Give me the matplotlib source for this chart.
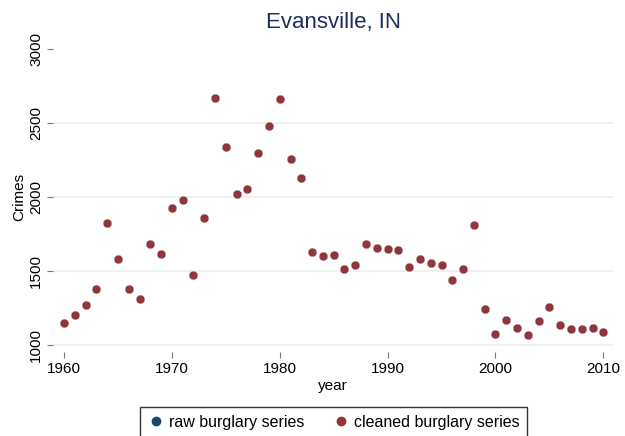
import matplotlib
matplotlib.use("Agg")
import matplotlib.pyplot as plt
from matplotlib.lines import Line2D

plt.rcParams['font.family'] = ['Liberation Sans', 'DejaVu Sans']

# data
years = list(range(1960, 2011))
cleaned = [1145, 1200, 1270, 1376, 1824, 1577, 1376, 1309, 1682, 1613,
           1921, 1980, 1471, 1854, 2669, 2338, 2016, 2050, 2297, 2476,
           2662, 2255, 2126, 1628, 1599, 1604, 1511, 1538, 1678, 1653,
           1644, 1640, 1525, 1579, 1552, 1538, 1439, 1509, 1807, 1243,
           1074, 1165, 1113, 1068, 1160, 1257, 1133, 1108, 1104, 1111,
           1088]
raw = list(cleaned)  # raw series sits underneath the cleaned one
yticks = [1000, 1500, 2000, 2500, 3000]
xticks = [1960, 1970, 1980, 1990, 2000, 2010]

navy = "#1a476f"
maroon = "#90353b"

fig = plt.figure(figsize=(6.25, 4.36), dpi=100)
ax = fig.add_axes([53/625, 1 - 352/436, 560/625, 310/436])

for v in yticks[:-1]:
    ax.axhline(v, color="#e6eeee", lw=1.1, zorder=0)

ax.scatter(years, raw, s=40, color=navy, edgecolor="white", linewidth=0.3, zorder=2)
ax.scatter(years, cleaned, s=40, color=maroon, edgecolor="white", linewidth=0.3, zorder=3)

ax.set_xlim(1958.98, 2010.9)
ax.set_ylim(951, 3045)
ax.set_xticks(xticks)
ax.set_yticks(yticks)
ax.set_yticklabels([str(v) for v in yticks], rotation=90, va="center")
ax.tick_params(axis="both", labelsize=11, color="#777777", length=4, width=0.8, pad=3)
for s in ax.spines.values():
    s.set_visible(False)

ax.set_xlabel("year", fontsize=11, labelpad=2)
ax.set_ylabel("Crimes", fontsize=11, labelpad=2)
ax.set_title("Evansville, IN", fontsize=16, color="#1f2d5c", pad=10)

handles = [Line2D([], [], ls="none", marker="o", ms=6, color=navy),
           Line2D([], [], ls="none", marker="o", ms=6, color=maroon)]
leg = fig.legend(handles, ["raw burglary series", "cleaned burglary series"],
                 loc="upper center", bbox_to_anchor=(0.534, 1 - 407/436),
                 ncol=2, fontsize=11.5, frameon=True, fancybox=False,
                 handletextpad=0.3, columnspacing=1.8, borderpad=0.5,
                 handlelength=1.0, borderaxespad=0)
leg.get_frame().set_edgecolor("black")
leg.get_frame().set_linewidth(1.0)

fig.savefig("out.png", dpi=100)
